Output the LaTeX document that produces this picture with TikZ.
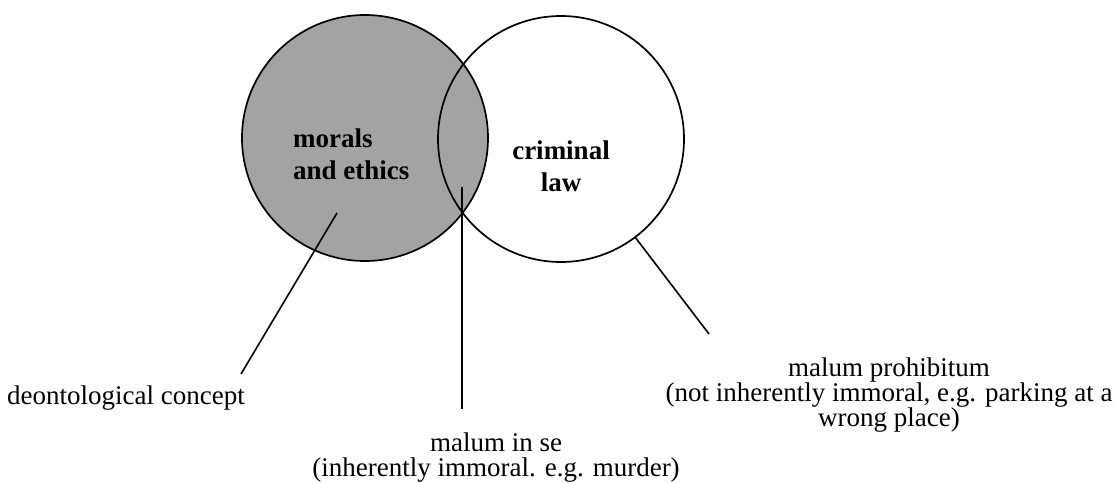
\documentclass[tikz,border=0pt]{standalone}
\usepackage{fontspec}
\setmainfont{Liberation Serif}
\begin{document}
\begin{tikzpicture}[x=1pt,y=-1pt,
  set/.style={circle,draw=black,line width=1.7pt,minimum size=246pt,inner sep=0pt},
  leader/.style={draw=black,line width=1.6pt},
  title/.style={font=\fontsize{27}{31.5}\selectfont\bfseries,inner sep=0pt,anchor=base},
  caption/.style={font=\fontsize{27}{25}\selectfont,inner sep=0pt,anchor=base,align=center}]
  \useasboundingbox[fill=white] (0,0) rectangle (1115,482);

  % the two sets: the shaded one first, the outlined one on top without fill
  \node[set,fill=black!36] (ethics) at (365,138) {};
  \node[set] (law) at (561,139) {};

  % set names (anchor base = baseline of the last line)
  \node[title,align=left,anchor=base west] (ethicsname) at (293,179) {morals\\and ethics};
  \node[title,align=center] (lawname) at (561,191) {criminal\\law};

  % leader line ends
  \coordinate (a1) at (337,213);
  \coordinate (a2) at (241,374);
  \coordinate (b1) at (462,187);
  \coordinate (b2) at (462,409);
  \coordinate (c1) at (635,237);
  \coordinate (c2) at (709,334);
  \draw[leader] (a1) -- (a2);
  \draw[leader] (b1) -- (b2);
  \draw[leader] (c1) -- (c2);

  % captions
  \node[caption,anchor=base west] (deon) at (7,404) {deontological concept};
  \node[caption] (inse) at (496,476) {malum in se\\(inherently immoral. e.g. murder)};
  \node[caption] (prohib) at (889,426) {malum prohibitum\\(not inherently immoral, e.g. parking at a\\wrong place)};
\end{tikzpicture}
\end{document}
